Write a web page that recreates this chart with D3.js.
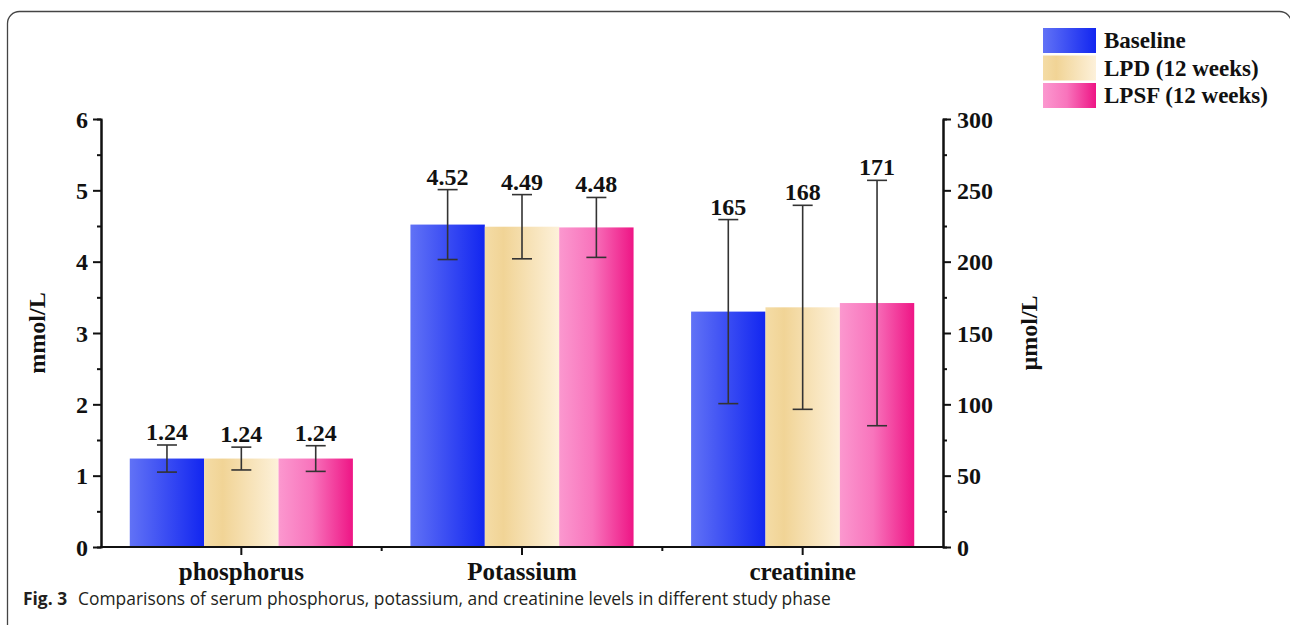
<!DOCTYPE html>
<html>
<head>
<meta charset="utf-8">
<script src="https://cdn.jsdelivr.net/npm/d3@7"></script>
<style>
  body { margin: 0; background: #fff; }
  svg { display: block; }
  .serif { font-family: "Liberation Serif", "Times New Roman", serif; font-weight: bold; fill: #111; }
</style>
</head>
<body>
<div id="chart"></div>
<script>
var W = 1290, H = 625;

// data
var categories = ['phosphorus', 'Potassium', 'creatinine'];
var series = ['Baseline', 'LPD (12 weeks)', 'LPSF (12 weeks)'];
// phosphorus and potassium in mmol/L (left axis), creatinine in µmol/L (right axis)
var phosphorus = [1.24, 1.24, 1.24];
var phosphorusSd = [0.19, 0.16, 0.18];
var potassium = [4.52, 4.49, 4.48];
var potassiumSd = [0.49, 0.45, 0.42];
var creatinine = [165, 168, 171];
var creatinineSd = [64.5, 71.5, 86];
var leftTicks = [0, 1, 2, 3, 4, 5, 6];
var rightTicks = [0, 50, 100, 150, 200, 250, 300];

var rows = [
  { cat: 'phosphorus', vals: phosphorus, sd: phosphorusSd, axis: 'left' },
  { cat: 'Potassium', vals: potassium, sd: potassiumSd, axis: 'left' },
  { cat: 'creatinine', vals: creatinine, sd: creatinineSd, axis: 'right' }
];

var margin = { left: 101, right: 943, top: 119, bottom: 547 };
var fs = '24px';

var svg = d3.select('#chart')
  .append('svg')
  .attr('width', W)
  .attr('height', H);

// gradients for the bars
var defs = svg.append('defs');
var grads = [
  { id: 'g0', stops: [['0%', '#6172f6'], ['100%', '#1226f0']] },
  { id: 'g1', stops: [['0%', '#f4dca6'], ['25%', '#f1d496'], ['100%', '#fdf1da']] },
  { id: 'g2', stops: [['0%', '#fb98cf'], ['45%', '#f874bc'], ['100%', '#ee1585']] }
];
grads.forEach(function(g) {
  var lg = defs.append('linearGradient')
    .attr('id', g.id)
    .attr('x1', '0').attr('x2', '1').attr('y1', '0').attr('y2', '0');
  g.stops.forEach(function(s) {
    lg.append('stop').attr('offset', s[0]).attr('stop-color', s[1]);
  });
});

// frame of the figure box
svg.append('rect')
  .attr('x', 7.5)
  .attr('y', 11.5)
  .attr('width', 1284)
  .attr('height', 700)
  .attr('rx', 12)
  .attr('fill', 'none')
  .attr('stroke', '#444')
  .attr('stroke-width', 1.3);

var x = d3.scaleBand()
  .domain(categories)
  .range([margin.left, margin.right])
  .paddingInner(0.205)
  .paddingOuter(0.1025);

var x1 = d3.scaleBand()
  .domain(series)
  .range([0, x.bandwidth()]);

var y = d3.scaleLinear().domain([0, 6]).range([margin.bottom, margin.top]);
var y2 = d3.scaleLinear().domain([0, 300]).range([margin.bottom, margin.top]);

// bars
rows.forEach(function(r) {
  var sc = r.axis === 'left' ? y : y2;
  var g = svg.append('g').attr('transform', 'translate(' + x(r.cat) + ',0)');
  series.forEach(function(s, i) {
    var v = r.vals[i];
    g.append('rect')
      .attr('x', x1(s))
      .attr('y', sc(v))
      .attr('width', x1.bandwidth())
      .attr('height', sc(0) - sc(v))
      .attr('fill', 'url(#g' + i + ')');
  });
});

// error bars and value labels
rows.forEach(function(r) {
  var sc = r.axis === 'left' ? y : y2;
  var g = svg.append('g').attr('transform', 'translate(' + x(r.cat) + ',0)');
  series.forEach(function(s, i) {
    var v = r.vals[i], sd = r.sd[i];
    var cx = x1(s) + x1.bandwidth() / 2;
    var top = sc(v + sd), bot = sc(v - sd);
    g.append('line')
      .attr('x1', cx).attr('x2', cx)
      .attr('y1', top).attr('y2', bot)
      .attr('stroke', '#333').attr('stroke-width', 1.6);
    [top, bot].forEach(function(yy) {
      g.append('line')
        .attr('x1', cx - 10).attr('x2', cx + 10)
        .attr('y1', yy).attr('y2', yy)
        .attr('stroke', '#333').attr('stroke-width', 1.6);
    });
    g.append('text')
      .attr('class', 'serif')
      .attr('x', cx)
      .attr('y', top - 5)
      .attr('text-anchor', 'middle')
      .style('font-size', fs)
      .text(r.axis === 'left' ? d3.format('.2f')(v) : v);
  });
});

function styleAxis(g) {
  g.attr('font-size', null);
  g.selectAll('path.domain').attr('stroke', '#111').attr('stroke-width', 2);
  g.selectAll('.tick line').attr('stroke', '#111').attr('stroke-width', 2);
  g.selectAll('.tick text')
    .attr('class', 'serif')
    .attr('fill', '#111')
    .style('font-size', fs);
}

// left axis
var minorLeft = d3.range(0.5, 6, 1);
svg.append('g')
  .attr('transform', 'translate(' + margin.left + ',0)')
  .call(d3.axisLeft(y).tickValues(minorLeft).tickSize(4).tickFormat(''))
  .call(styleAxis);
svg.append('g')
  .attr('transform', 'translate(' + margin.left + ',0)')
  .call(d3.axisLeft(y).tickValues(leftTicks).tickSize(8).tickPadding(5).tickSizeOuter(0).tickFormat(d3.format('d')))
  .call(styleAxis)
  .call(function(g) { g.selectAll('.tick text').attr('dy', '0.34em'); });

// right axis
var minorRight = d3.range(25, 300, 50);
svg.append('g')
  .attr('transform', 'translate(' + margin.right + ',0)')
  .call(d3.axisRight(y2).tickValues(minorRight).tickSize(4).tickFormat(''))
  .call(styleAxis);
svg.append('g')
  .attr('transform', 'translate(' + margin.right + ',0)')
  .call(d3.axisRight(y2).tickValues(rightTicks).tickSize(8).tickPadding(6).tickSizeOuter(0).tickFormat(d3.format('d')))
  .call(styleAxis)
  .call(function(g) { g.selectAll('.tick text').attr('dy', '0.34em'); });

// bottom axis
var bottomAxis = svg.append('g')
  .attr('transform', 'translate(0,' + margin.bottom + ')')
  .call(d3.axisBottom(x).tickSize(8).tickPadding(7).tickSizeOuter(0))
  .call(styleAxis);
bottomAxis.select('path.domain').attr('d', 'M' + (margin.left - 1) + ',0H' + (margin.right + 1));
bottomAxis.selectAll('.tick text').style('font-size', '25px');

var between = categories.slice(0, -1).map(function(c) { return x(c) + x.step() - (x.step() - x.bandwidth()) / 2; });
bottomAxis.selectAll('.minor')
  .data(between)
  .enter()
  .append('line')
  .attr('x1', function(d) { return d; })
  .attr('x2', function(d) { return d; })
  .attr('y1', 0).attr('y2', 4)
  .attr('stroke', '#111').attr('stroke-width', 2);

// axis titles
svg.append('text')
  .attr('class', 'serif')
  .attr('transform', 'translate(45,' + (margin.top + margin.bottom) / 2 + ') rotate(-90)')
  .attr('text-anchor', 'middle')
  .style('font-size', fs)
  .text('mmol/L');

svg.append('text')
  .attr('class', 'serif')
  .attr('transform', 'translate(1037,' + (margin.top + margin.bottom) / 2 + ') rotate(-90)')
  .attr('text-anchor', 'middle')
  .style('font-size', fs)
  .text('µmol/L');

// legend
var legend = svg.append('g').attr('transform', 'translate(1043,28)');
series.forEach(function(s, i) {
  legend.append('rect')
    .attr('x', 0)
    .attr('y', i * 27.5)
    .attr('width', 53)
    .attr('height', 25)
    .attr('fill', 'url(#g' + i + ')');
  legend.append('text')
    .attr('class', 'serif')
    .attr('x', 61)
    .attr('y', i * 27.5 + 20)
    .style('font-size', '23px')
    .text(s);
});

// caption
var cap = svg.append('text')
  .attr('x', 23)
  .attr('y', 605)
  .style('font-family', '"Open Sans", "Noto Sans", sans-serif')
  .style('font-size', '17.4px')
  .attr('fill', '#231f20');
cap.append('tspan').style('font-weight', 'bold').text('Fig. 3');
cap.append('tspan').attr('dx', 11).text('Comparisons of serum phosphorus, potassium, and creatinine levels in different study phase');
</script>
</body>
</html>
